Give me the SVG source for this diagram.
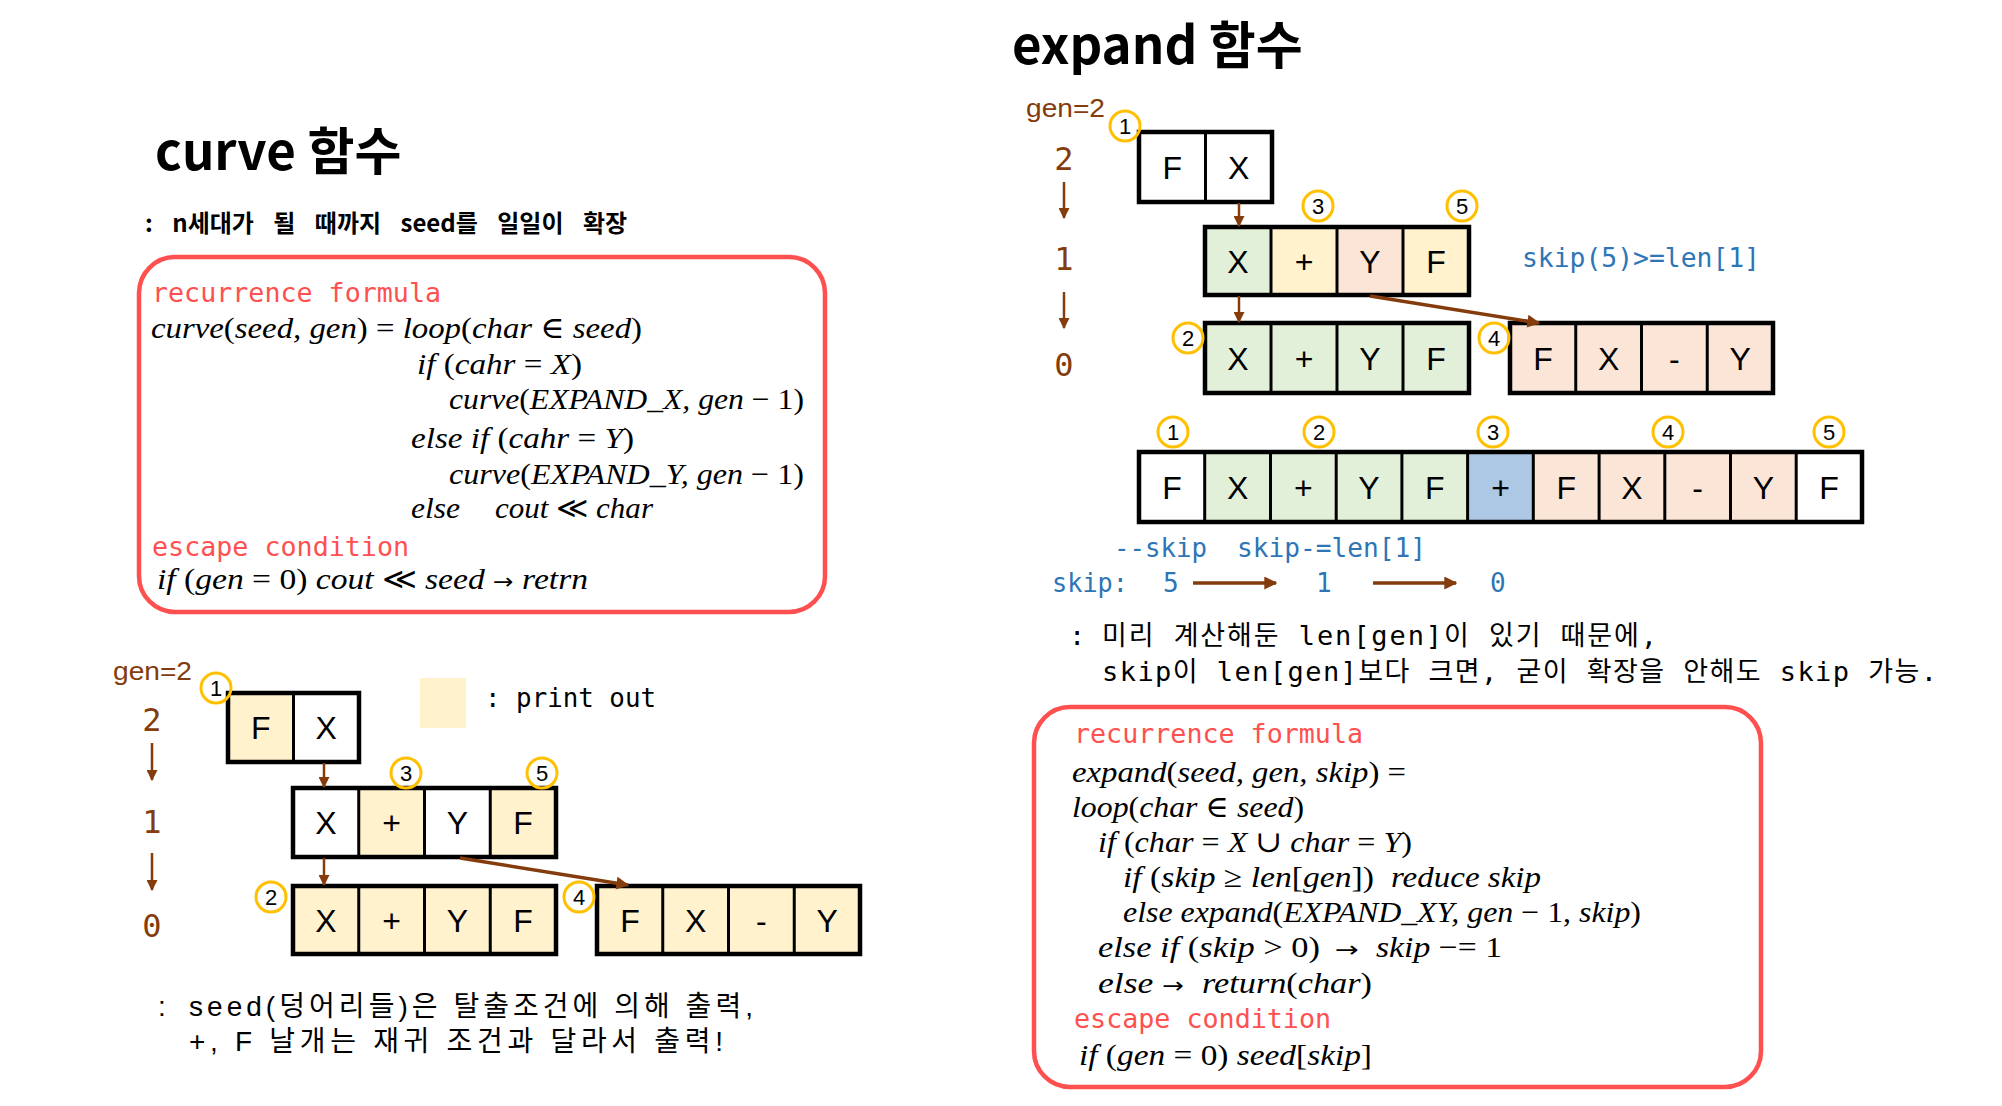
<svg xmlns="http://www.w3.org/2000/svg" width="2002" height="1106" viewBox="0 0 2002 1106">
<style>
.title{font-family:"Noto Sans CJK KR",sans-serif;font-weight:700;font-size:51px;fill:#000}
.sub{font-family:"Noto Sans CJK KR",sans-serif;font-weight:700;font-size:24px;fill:#000;word-spacing:14px}
.red{font-family:"DejaVu Sans Mono",monospace;font-size:26px;fill:#ff5050}
.m{font-family:"Liberation Serif","DejaVu Serif",serif;font-style:italic;font-size:30px;fill:#000}
.u{font-style:normal}
.ar{font-family:"DejaVu Sans",sans-serif;font-style:normal;font-size:22px}
.box{fill:#fff;stroke:#ff5050;stroke-width:4.5}
.y{fill:#fff2cc}.g{fill:#e2f0d9}.s{fill:#fbe5d6}.b{fill:#adc8e4}.w{fill:#fff}
.frame{fill:none;stroke:#000;stroke-width:4.5}
.dv{stroke:#000;stroke-width:3}
.ct{font-family:"Liberation Sans",sans-serif;font-size:32px;text-anchor:middle;fill:#000}
.num{fill:none;stroke:#ffc000;stroke-width:3}
.nt{font-family:"Liberation Sans",sans-serif;font-size:22px;text-anchor:middle;fill:#000}
.br{font-family:"Liberation Sans",sans-serif;fill:#843c0c;font-size:26px}
.bd{font-family:"DejaVu Sans Mono",monospace;fill:#843c0c;font-size:32px;text-anchor:middle}
.blue{font-family:"DejaVu Sans Mono",monospace;fill:#2e75b6;font-size:26px}
.note{font-family:"Liberation Sans","Noto Sans CJK KR",sans-serif;font-size:28px;fill:#000}
.note2{font-family:"DejaVu Sans Mono","Noto Sans CJK KR",monospace;font-size:27px;fill:#000}
.mono{font-family:"DejaVu Sans Mono",monospace;font-size:26px;fill:#000}
.arr{stroke:#843c0c;stroke-width:2.5;fill:none;marker-end:url(#ah)}
.arr2{stroke:#843c0c;stroke-width:3.5;fill:none;marker-end:url(#ah2)}
</style>
<defs>
<marker id="ah" viewBox="0 0 10 10" refX="9" refY="5" markerWidth="11" markerHeight="11" markerUnits="userSpaceOnUse" orient="auto"><path d="M0,0 L10,5 L0,10 z" fill="#843c0c"/></marker>
<marker id="ah2" viewBox="0 0 10 10" refX="9" refY="5" markerWidth="13" markerHeight="13" markerUnits="userSpaceOnUse" orient="auto"><path d="M0,0 L10,5 L0,10 z" fill="#843c0c"/></marker>
</defs>
<rect width="2002" height="1106" fill="#fff"/>

<!-- LEFT: curve -->
<g id="curve-title">
<text class="title" x="155" y="170">curve 함수</text>
<text class="sub" x="145" y="232">: n세대가 될 때까지 seed를 일일이 확장</text>
</g>

<g id="curve-formula">
<rect class="box" x="139" y="257" width="686" height="355" rx="36"/>
<text class="red" x="152" y="302" textLength="289" lengthAdjust="spacingAndGlyphs">recurrence formula</text>
<text class="m" x="151" y="338" textLength="491" lengthAdjust="spacingAndGlyphs">curve<tspan class="u">(</tspan>seed, gen<tspan class="u">) = </tspan>loop<tspan class="u">(</tspan>char <tspan class="u">∈</tspan> seed<tspan class="u">)</tspan></text>
<text class="m" x="417" y="374" textLength="165" lengthAdjust="spacingAndGlyphs">if<tspan class="u"> (</tspan>cahr <tspan class="u">=</tspan> X<tspan class="u">)</tspan></text>
<text class="m" x="449" y="409" textLength="355" lengthAdjust="spacingAndGlyphs">curve<tspan class="u">(</tspan>EXPAND_X, gen <tspan class="u">− 1)</tspan></text>
<text class="m" x="411" y="448" textLength="223" lengthAdjust="spacingAndGlyphs">else if<tspan class="u"> (</tspan>cahr <tspan class="u">=</tspan> Y<tspan class="u">)</tspan></text>
<text class="m" x="449" y="484" textLength="355" lengthAdjust="spacingAndGlyphs">curve<tspan class="u">(</tspan>EXPAND_Y, gen <tspan class="u">− 1)</tspan></text>
<text class="m" x="411" y="518" textLength="49" lengthAdjust="spacingAndGlyphs">else</text>
<text class="m" x="495" y="518" textLength="158" lengthAdjust="spacingAndGlyphs">cout <tspan class="u">≪</tspan> char</text>
<text class="red" x="152" y="556" textLength="257" lengthAdjust="spacingAndGlyphs">escape condition</text>
<text class="m" x="157" y="589" textLength="431" lengthAdjust="spacingAndGlyphs">if<tspan class="u"> (</tspan>gen <tspan class="u">= 0)</tspan> cout <tspan class="u">≪</tspan> seed <tspan class="ar">→</tspan> retrn</text>
</g>

<g id="curve-gen">
<text class="br" x="113" y="680" textLength="79" lengthAdjust="spacingAndGlyphs">gen=2</text>
<text class="bd" x="152" y="731">2</text>
<text class="bd" x="152" y="833">1</text>
<text class="bd" x="152" y="937">0</text>
</g>

<g id="curve-legend">
<rect class="y" x="420" y="678" width="46" height="50"/>
<text class="mono" x="485" y="707" textLength="171" lengthAdjust="spacingAndGlyphs">: print out</text>
</g>

<g id="curve-row-gen2">
<rect class="y" x="228" y="693" width="65.5" height="69"/>
<rect class="w" x="293.5" y="693" width="65.5" height="69"/>
<line class="dv" x1="293.5" y1="693" x2="293.5" y2="762"/>
<rect class="frame" x="228" y="693" width="131" height="69"/>
<text class="ct" x="260.75" y="739">F</text>
<text class="ct" x="326.25" y="739">X</text>
<circle class="num" cx="216" cy="688" r="15"/><text class="nt" x="216" y="696">1</text>
</g>

<g id="curve-row-gen1">
<rect class="w" x="293" y="788" width="65.75" height="69"/>
<rect class="y" x="358.75" y="788" width="65.75" height="69"/>
<rect class="w" x="424.5" y="788" width="65.75" height="69"/>
<rect class="y" x="490.25" y="788" width="65.75" height="69"/>
<line class="dv" x1="358.75" y1="788" x2="358.75" y2="857"/>
<line class="dv" x1="424.5" y1="788" x2="424.5" y2="857"/>
<line class="dv" x1="490.25" y1="788" x2="490.25" y2="857"/>
<rect class="frame" x="293" y="788" width="263" height="69"/>
<text class="ct" x="325.9" y="834">X</text>
<text class="ct" x="391.6" y="834">+</text>
<text class="ct" x="457.4" y="834">Y</text>
<text class="ct" x="523.1" y="834">F</text>
<circle class="num" cx="406" cy="773" r="15"/><text class="nt" x="406" y="781">3</text>
<circle class="num" cx="542" cy="773" r="15"/><text class="nt" x="542" y="781">5</text>
</g>

<g id="curve-row-gen0-x">
<rect class="y" x="293" y="886" width="263" height="68"/>
<line class="dv" x1="358.75" y1="886" x2="358.75" y2="954"/>
<line class="dv" x1="424.5" y1="886" x2="424.5" y2="954"/>
<line class="dv" x1="490.25" y1="886" x2="490.25" y2="954"/>
<rect class="frame" x="293" y="886" width="263" height="68"/>
<text class="ct" x="325.9" y="932">X</text>
<text class="ct" x="391.6" y="932">+</text>
<text class="ct" x="457.4" y="932">Y</text>
<text class="ct" x="523.1" y="932">F</text>
<circle class="num" cx="271" cy="897" r="15"/><text class="nt" x="271" y="905">2</text>
</g>

<g id="curve-row-gen0-y">
<rect class="y" x="597" y="886" width="263" height="68"/>
<line class="dv" x1="662.75" y1="886" x2="662.75" y2="954"/>
<line class="dv" x1="728.5" y1="886" x2="728.5" y2="954"/>
<line class="dv" x1="794.25" y1="886" x2="794.25" y2="954"/>
<rect class="frame" x="597" y="886" width="263" height="68"/>
<text class="ct" x="629.9" y="932">F</text>
<text class="ct" x="695.6" y="932">X</text>
<text class="ct" x="761.4" y="932">-</text>
<text class="ct" x="827.1" y="932">Y</text>
<circle class="num" cx="579" cy="897" r="15"/><text class="nt" x="579" y="905">4</text>
</g>

<g id="curve-note">
<text class="note" x="158" y="1016">:</text>
<text class="note" x="189" y="1016" textLength="564" lengthAdjust="spacing">seed(덩어리들)은 탈출조건에 의해 출력,</text>
<text class="note" x="189" y="1051" textLength="534" lengthAdjust="spacing">+, F 날개는 재귀 조건과 달라서 출력!</text>
</g>

<!-- RIGHT: expand -->
<g id="expand-title">
<text class="title" x="1012" y="64">expand 함수</text>
</g>

<g id="expand-gen">
<text class="br" x="1026" y="117" textLength="79" lengthAdjust="spacingAndGlyphs">gen=2</text>
<text class="bd" x="1064" y="170">2</text>
<text class="bd" x="1064" y="270">1</text>
<text class="bd" x="1064" y="376">0</text>
</g>

<g id="expand-row-gen2">
<rect class="w" x="1139" y="132" width="133" height="70"/>
<line class="dv" x1="1205.5" y1="132" x2="1205.5" y2="202"/>
<rect class="frame" x="1139" y="132" width="133" height="70"/>
<text class="ct" x="1172.25" y="178.5">F</text>
<text class="ct" x="1238.75" y="178.5">X</text>
<circle class="num" cx="1125" cy="126" r="15"/><text class="nt" x="1125" y="134">1</text>
</g>

<g id="expand-row-gen1">
<rect class="g" x="1205" y="227" width="66" height="68"/>
<rect class="y" x="1271" y="227" width="66" height="68"/>
<rect class="s" x="1337" y="227" width="66" height="68"/>
<rect class="y" x="1403" y="227" width="66" height="68"/>
<line class="dv" x1="1271" y1="227" x2="1271" y2="295"/>
<line class="dv" x1="1337" y1="227" x2="1337" y2="295"/>
<line class="dv" x1="1403" y1="227" x2="1403" y2="295"/>
<rect class="frame" x="1205" y="227" width="264" height="68"/>
<text class="ct" x="1238" y="272.5">X</text>
<text class="ct" x="1304" y="272.5">+</text>
<text class="ct" x="1370" y="272.5">Y</text>
<text class="ct" x="1436" y="272.5">F</text>
<circle class="num" cx="1318" cy="206" r="15"/><text class="nt" x="1318" y="214">3</text>
<circle class="num" cx="1462" cy="206" r="15"/><text class="nt" x="1462" y="214">5</text>
</g>

<g id="expand-skip-check">
<text class="blue" x="1522" y="267" textLength="238" lengthAdjust="spacingAndGlyphs">skip(5)&gt;=len[1]</text>
</g>

<g id="expand-row-gen0-x">
<rect class="g" x="1205" y="323" width="264" height="70"/>
<line class="dv" x1="1271" y1="323" x2="1271" y2="393"/>
<line class="dv" x1="1337" y1="323" x2="1337" y2="393"/>
<line class="dv" x1="1403" y1="323" x2="1403" y2="393"/>
<rect class="frame" x="1205" y="323" width="264" height="70"/>
<text class="ct" x="1238" y="369.5">X</text>
<text class="ct" x="1304" y="369.5">+</text>
<text class="ct" x="1370" y="369.5">Y</text>
<text class="ct" x="1436" y="369.5">F</text>
<circle class="num" cx="1188" cy="338" r="15"/><text class="nt" x="1188" y="346">2</text>
</g>

<g id="expand-row-gen0-y">
<rect class="s" x="1510" y="323" width="263" height="70"/>
<line class="dv" x1="1575.75" y1="323" x2="1575.75" y2="393"/>
<line class="dv" x1="1641.5" y1="323" x2="1641.5" y2="393"/>
<line class="dv" x1="1707.25" y1="323" x2="1707.25" y2="393"/>
<rect class="frame" x="1510" y="323" width="263" height="70"/>
<text class="ct" x="1542.9" y="369.5">F</text>
<text class="ct" x="1608.6" y="369.5">X</text>
<text class="ct" x="1674.4" y="369.5">-</text>
<text class="ct" x="1740.1" y="369.5">Y</text>
<circle class="num" cx="1494" cy="338" r="15"/><text class="nt" x="1494" y="346">4</text>
</g>

<g id="expand-result">
<rect class="w" x="1139" y="452" width="65.7" height="70"/>
<rect class="g" x="1204.7" y="452" width="262.9" height="70"/>
<rect class="b" x="1467.6" y="452" width="65.7" height="70"/>
<rect class="s" x="1533.3" y="452" width="262.9" height="70"/>
<rect class="w" x="1796.2" y="452" width="65.8" height="70"/>
<line class="dv" x1="1204.7" y1="452" x2="1204.7" y2="522"/>
<line class="dv" x1="1270.5" y1="452" x2="1270.5" y2="522"/>
<line class="dv" x1="1336.2" y1="452" x2="1336.2" y2="522"/>
<line class="dv" x1="1401.9" y1="452" x2="1401.9" y2="522"/>
<line class="dv" x1="1467.6" y1="452" x2="1467.6" y2="522"/>
<line class="dv" x1="1533.3" y1="452" x2="1533.3" y2="522"/>
<line class="dv" x1="1599.1" y1="452" x2="1599.1" y2="522"/>
<line class="dv" x1="1664.8" y1="452" x2="1664.8" y2="522"/>
<line class="dv" x1="1730.5" y1="452" x2="1730.5" y2="522"/>
<line class="dv" x1="1796.2" y1="452" x2="1796.2" y2="522"/>
<rect class="frame" x="1139" y="452" width="723" height="70"/>
<text class="ct" x="1171.9" y="498.5">F</text>
<text class="ct" x="1237.6" y="498.5">X</text>
<text class="ct" x="1303.3" y="498.5">+</text>
<text class="ct" x="1369.0" y="498.5">Y</text>
<text class="ct" x="1434.8" y="498.5">F</text>
<text class="ct" x="1500.5" y="498.5">+</text>
<text class="ct" x="1566.2" y="498.5">F</text>
<text class="ct" x="1631.9" y="498.5">X</text>
<text class="ct" x="1697.7" y="498.5">-</text>
<text class="ct" x="1763.4" y="498.5">Y</text>
<text class="ct" x="1829.1" y="498.5">F</text>
<circle class="num" cx="1173" cy="432" r="15"/><text class="nt" x="1173" y="440">1</text>
<circle class="num" cx="1319" cy="432" r="15"/><text class="nt" x="1319" y="440">2</text>
<circle class="num" cx="1493" cy="432" r="15"/><text class="nt" x="1493" y="440">3</text>
<circle class="num" cx="1668" cy="432" r="15"/><text class="nt" x="1668" y="440">4</text>
<circle class="num" cx="1829" cy="432" r="15"/><text class="nt" x="1829" y="440">5</text>
</g>

<g id="expand-skip-trace">
<text class="blue" x="1114" y="557" textLength="93" lengthAdjust="spacingAndGlyphs">--skip</text>
<text class="blue" x="1237" y="557" textLength="189" lengthAdjust="spacingAndGlyphs">skip-=len[1]</text>
<text class="blue" x="1052" y="592" textLength="76" lengthAdjust="spacingAndGlyphs">skip:</text>
<text class="blue" x="1163" y="592">5</text>
<text class="blue" x="1316" y="592">1</text>
<text class="blue" x="1490" y="592">0</text>
</g>

<g id="expand-note">
<text class="note2" x="1069" y="645">:</text>
<text class="note2" x="1102" y="645" textLength="555" lengthAdjust="spacing">미리 계산해둔 len[gen]이 있기 때문에,</text>
<text class="note2" x="1102" y="681" textLength="835" lengthAdjust="spacing">skip이 len[gen]보다 크면, 굳이 확장을 안해도 skip 가능.</text>
</g>

<g id="expand-formula">
<rect class="box" x="1034" y="707" width="727" height="380" rx="36"/>
<text class="red" x="1074" y="743" textLength="289" lengthAdjust="spacingAndGlyphs">recurrence formula</text>
<text class="m" x="1072" y="782" textLength="334" lengthAdjust="spacingAndGlyphs">expand<tspan class="u">(</tspan>seed, gen, skip<tspan class="u">) =</tspan></text>
<text class="m" x="1072" y="817" textLength="232" lengthAdjust="spacingAndGlyphs">loop<tspan class="u">(</tspan>char <tspan class="u">∈</tspan> seed<tspan class="u">)</tspan></text>
<text class="m" x="1098" y="852" textLength="314" lengthAdjust="spacingAndGlyphs">if<tspan class="u"> (</tspan>char <tspan class="u">=</tspan> X <tspan class="u">∪</tspan> char <tspan class="u">=</tspan> Y<tspan class="u">)</tspan></text>
<text class="m" x="1123" y="887" textLength="251" lengthAdjust="spacingAndGlyphs">if<tspan class="u"> (</tspan>skip <tspan class="u">≥</tspan> len<tspan class="u">[</tspan>gen<tspan class="u">])</tspan></text>
<text class="m" x="1391" y="887" textLength="150" lengthAdjust="spacingAndGlyphs">reduce skip</text>
<text class="m" x="1123" y="922" textLength="518" lengthAdjust="spacingAndGlyphs">else expand<tspan class="u">(</tspan>EXPAND_XY, gen <tspan class="u">− 1,</tspan> skip<tspan class="u">)</tspan></text>
<text class="m" x="1098" y="957" textLength="222" lengthAdjust="spacingAndGlyphs">else if<tspan class="u"> (</tspan>skip <tspan class="u">&gt; 0)</tspan></text>
<text class="m ar" x="1335" y="957" textLength="24" lengthAdjust="spacingAndGlyphs">→</text>
<text class="m" x="1376" y="957" textLength="126" lengthAdjust="spacingAndGlyphs">skip <tspan class="u">−= 1</tspan></text>
<text class="m" x="1098" y="993" textLength="86" lengthAdjust="spacingAndGlyphs">else <tspan class="ar">→</tspan></text>
<text class="m" x="1202" y="993" textLength="170" lengthAdjust="spacingAndGlyphs">return<tspan class="u">(</tspan>char<tspan class="u">)</tspan></text>
<text class="red" x="1074" y="1028" textLength="257" lengthAdjust="spacingAndGlyphs">escape condition</text>
<text class="m" x="1079" y="1065" textLength="293" lengthAdjust="spacingAndGlyphs">if<tspan class="u"> (</tspan>gen <tspan class="u">= 0)</tspan> seed<tspan class="u">[</tspan>skip<tspan class="u">]</tspan></text>
</g>

<g id="connectors">
<line class="arr" x1="152" y1="743" x2="152" y2="780"/>
<line class="arr" x1="152" y1="853" x2="152" y2="890"/>
<line class="arr" x1="324" y1="763" x2="324" y2="787"/>
<line class="arr" x1="324" y1="858" x2="324" y2="885"/>
<line class="arr2" x1="460" y1="858" x2="628" y2="885"/>
<line class="arr" x1="1064" y1="182" x2="1064" y2="218"/>
<line class="arr" x1="1064" y1="292" x2="1064" y2="328"/>
<line class="arr" x1="1239" y1="203" x2="1239" y2="226"/>
<line class="arr" x1="1239" y1="296" x2="1239" y2="322"/>
<line class="arr2" x1="1370" y1="296" x2="1539" y2="323"/>
<line class="arr2" x1="1193" y1="583" x2="1276" y2="583"/>
<line class="arr2" x1="1373" y1="583" x2="1456" y2="583"/>
</g>
</svg>
